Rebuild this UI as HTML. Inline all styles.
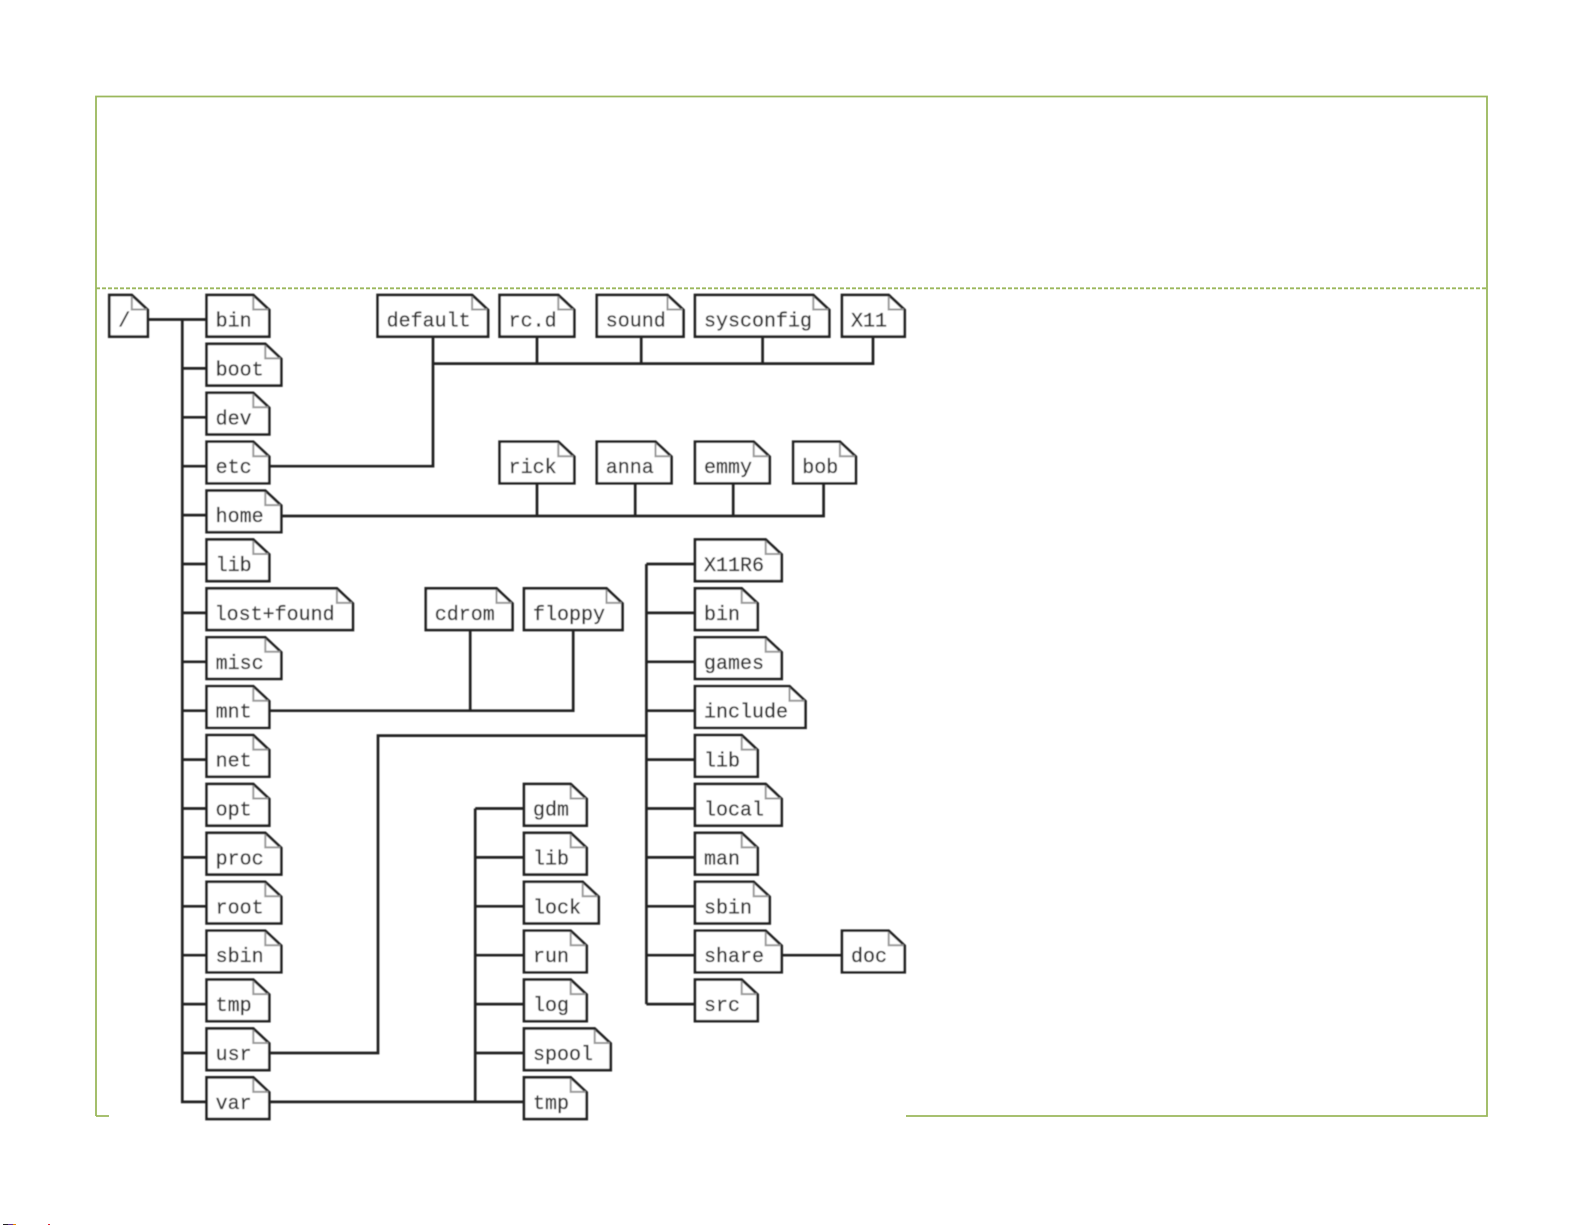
<!DOCTYPE html>
<html><head><meta charset="utf-8"><style>
html,body{margin:0;padding:0;background:#fff}
svg{display:block}
.l{fill:none;stroke:#222;stroke-width:2.7}
.b{fill:#fff;stroke:#222;stroke-width:2.7;stroke-linejoin:miter}
.f{fill:none;stroke:#999;stroke-width:2}
text{font-family:"Liberation Mono",monospace;font-size:20px;fill:#333;stroke:#333;stroke-width:.3}
</style></head><body>
<svg width="1585" height="1225" viewBox="0 0 1585 1225" xmlns="http://www.w3.org/2000/svg">
<defs>
<g id="b39"><path class="b" d="M0 0h22.5l16 15v26.6h-38.5z"/><path class="f" d="M22.5 1.5v13h15"/></g>
<g id="b63"><path class="b" d="M0 0h46.7l16 15v26.6h-62.7z"/><path class="f" d="M46.7 1.5v13h15"/></g>
<g id="b75"><path class="b" d="M0 0h58.7l16 15v26.6h-74.7z"/><path class="f" d="M58.7 1.5v13h15"/></g>
<g id="b87"><path class="b" d="M0 0h70.7l16 15v26.6h-86.7z"/><path class="f" d="M70.7 1.5v13h15"/></g>
<g id="b99"><path class="b" d="M0 0h82.5l16 15v26.6h-98.5z"/><path class="f" d="M82.5 1.5v13h15"/></g>
<g id="b111"><path class="b" d="M0 0h94.5l16 15v26.6h-110.5z"/><path class="f" d="M94.5 1.5v13h15"/></g>
<g id="b135"><path class="b" d="M0 0h118.3l16 15v26.6h-134.3z"/><path class="f" d="M118.3 1.5v13h15"/></g>
<g id="b147"><path class="b" d="M0 0h130.3l16 15v26.6h-146.3z"/><path class="f" d="M130.3 1.5v13h15"/></g>
<filter id="s" filterUnits="userSpaceOnUse" x="90" y="280" width="840" height="860"><feGaussianBlur stdDeviation="0.55"/></filter>
</defs>
<path d="M96 1116V96.5H1487V1116H96" fill="none" stroke="#9bb85c" stroke-width="1.8"/>
<line x1="96" y1="288.3" x2="1487" y2="288.3" stroke="#9bb85c" stroke-width="1.8" stroke-dasharray="4 2"/>
<rect x="109" y="292" width="797" height="830" fill="#fff"/>
<g filter="url(#s)">
<path class="l" d="M148 319.5H206.6M182.3 319.5V1101.9H206.6M182.3 368.4H206.6M182.3 417.3H206.6M182.3 466.2H206.6M182.3 515.1H206.6M182.3 564H206.6M182.3 612.9H206.6M182.3 661.8H206.6M182.3 710.7H206.6M182.3 759.6H206.6M182.3 808.5H206.6M182.3 857.4H206.6M182.3 906.3H206.6M182.3 955.2H206.6M182.3 1004.1H206.6M182.3 1053H206.6"/>
<path class="l" d="M269.5 466.2H433V337M433 363.6H873V337M537 337V363.6M641.2 337V363.6M762.6 337V363.6"/>
<path class="l" d="M281.6 516H823.6V483M537 483V516M635.2 483V516M733.2 483V516"/>
<path class="l" d="M269.5 710.7H573.2V630M470.2 630V710.7"/>
<path class="l" d="M269.5 1053H378V735.6H646.4M646.4 564V1004.1M646.4 564H696M646.4 612.9H696M646.4 661.8H696M646.4 710.7H696M646.4 759.6H696M646.4 808.5H696M646.4 857.4H696M646.4 906.3H696M646.4 955.2H696M646.4 1004.1H696M783 955.2H842.6"/>
<path class="l" d="M269.5 1101.9H524.6M475.2 808.5V1101.9M475.2 808.5H524.6M475.2 857.4H524.6M475.2 906.3H524.6M475.2 955.2H524.6M475.2 1004.1H524.6M475.2 1053H524.6"/>

<g transform="translate(109.3 295)"><use href="#b39"/><text x="9" y="31.5">/</text></g>

<g transform="translate(206.6 295)"><use href="#b63"/><text x="9" y="31.5">bin</text></g>
<g transform="translate(206.6 343.9)"><use href="#b75"/><text x="9" y="31.5">boot</text></g>
<g transform="translate(206.6 392.8)"><use href="#b63"/><text x="9" y="31.5">dev</text></g>
<g transform="translate(206.6 441.7)"><use href="#b63"/><text x="9" y="31.5">etc</text></g>
<g transform="translate(206.6 490.6)"><use href="#b75"/><text x="9" y="31.5">home</text></g>
<g transform="translate(206.6 539.5)"><use href="#b63"/><text x="9" y="31.5">lib</text></g>
<g transform="translate(206.6 588.4)"><use href="#b147"/><text x="8" y="31.5">lost+found</text></g>
<g transform="translate(206.6 637.3)"><use href="#b75"/><text x="9" y="31.5">misc</text></g>
<g transform="translate(206.6 686.2)"><use href="#b63"/><text x="9" y="31.5">mnt</text></g>
<g transform="translate(206.6 735.1)"><use href="#b63"/><text x="9" y="31.5">net</text></g>
<g transform="translate(206.6 784)"><use href="#b63"/><text x="9" y="31.5">opt</text></g>
<g transform="translate(206.6 832.9)"><use href="#b75"/><text x="9" y="31.5">proc</text></g>
<g transform="translate(206.6 881.8)"><use href="#b75"/><text x="9" y="31.5">root</text></g>
<g transform="translate(206.6 930.7)"><use href="#b75"/><text x="9" y="31.5">sbin</text></g>
<g transform="translate(206.6 979.6)"><use href="#b63"/><text x="9" y="31.5">tmp</text></g>
<g transform="translate(206.6 1028.5)"><use href="#b63"/><text x="9" y="31.5">usr</text></g>
<g transform="translate(206.6 1077.4)"><use href="#b63"/><text x="9" y="31.5">var</text></g>

<g transform="translate(377.6 295)"><use href="#b111"/><text x="9" y="31.5">default</text></g>
<g transform="translate(499.6 295)"><use href="#b75"/><text x="9" y="31.5">rc.d</text></g>
<g transform="translate(596.8 295)"><use href="#b87"/><text x="9" y="31.5">sound</text></g>
<g transform="translate(695 295)"><use href="#b135"/><text x="9" y="31.5">sysconfig</text></g>
<g transform="translate(842 295)"><use href="#b63"/><text x="9" y="31.5">X11</text></g>

<g transform="translate(499.6 441.7)"><use href="#b75"/><text x="9" y="31.5">rick</text></g>
<g transform="translate(596.8 441.7)"><use href="#b75"/><text x="9" y="31.5">anna</text></g>
<g transform="translate(695 441.7)"><use href="#b75"/><text x="9" y="31.5">emmy</text></g>
<g transform="translate(793.2 441.7)"><use href="#b63"/><text x="9" y="31.5">bob</text></g>

<g transform="translate(425.8 588.4)"><use href="#b87"/><text x="9" y="31.5">cdrom</text></g>
<g transform="translate(524 588.4)"><use href="#b99"/><text x="9" y="31.5">floppy</text></g>

<g transform="translate(695 539.5)"><use href="#b87"/><text x="9" y="31.5">X11R6</text></g>
<g transform="translate(695 588.4)"><use href="#b63"/><text x="9" y="31.5">bin</text></g>
<g transform="translate(695 637.3)"><use href="#b87"/><text x="9" y="31.5">games</text></g>
<g transform="translate(695 686.2)"><use href="#b111"/><text x="9" y="31.5">include</text></g>
<g transform="translate(695 735.1)"><use href="#b63"/><text x="9" y="31.5">lib</text></g>
<g transform="translate(695 784)"><use href="#b87"/><text x="9" y="31.5">local</text></g>
<g transform="translate(695 832.9)"><use href="#b63"/><text x="9" y="31.5">man</text></g>
<g transform="translate(695 881.8)"><use href="#b75"/><text x="9" y="31.5">sbin</text></g>
<g transform="translate(695 930.7)"><use href="#b87"/><text x="9" y="31.5">share</text></g>
<g transform="translate(695 979.6)"><use href="#b63"/><text x="9" y="31.5">src</text></g>
<g transform="translate(842 930.7)"><use href="#b63"/><text x="9" y="31.5">doc</text></g>

<g transform="translate(524 784)"><use href="#b63"/><text x="9" y="31.5">gdm</text></g>
<g transform="translate(524 832.9)"><use href="#b63"/><text x="9" y="31.5">lib</text></g>
<g transform="translate(524 881.8)"><use href="#b75"/><text x="9" y="31.5">lock</text></g>
<g transform="translate(524 930.7)"><use href="#b63"/><text x="9" y="31.5">run</text></g>
<g transform="translate(524 979.6)"><use href="#b63"/><text x="9" y="31.5">log</text></g>
<g transform="translate(524 1028.5)"><use href="#b87"/><text x="9" y="31.5">spool</text></g>
<g transform="translate(524 1077.4)"><use href="#b63"/><text x="9" y="31.5">tmp</text></g>
</g>
<rect x="3" y="1224" width="5" height="1" fill="#222"/>
<rect x="8" y="1224" width="5" height="1" fill="#639"/>
<rect x="13" y="1224" width="3" height="1" fill="#e80"/>
<rect x="48" y="1224" width="2" height="1" fill="#d23"/>
</svg>
</body></html>
